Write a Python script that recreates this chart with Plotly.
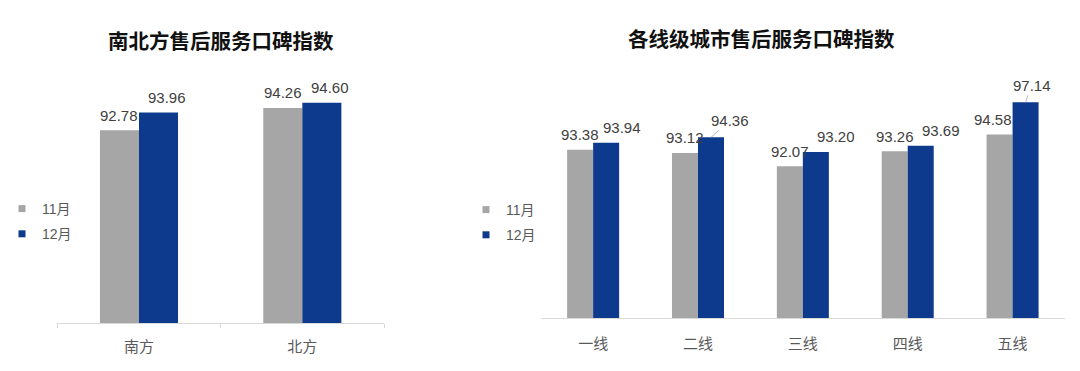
import plotly.graph_objects as go

# ---------------- data ----------------
series_names = ["11月", "12月"]

regions = ["南方", "北方"]
region_nov = [92.78, 94.26]
region_dec = [93.96, 94.60]

tiers = ["一线", "二线", "三线", "四线", "五线"]
tier_nov = [93.38, 93.12, 92.07, 93.26, 94.58]
tier_dec = [93.94, 94.36, 93.20, 93.69, 97.14]

title_left = "南北方售后服务口碑指数"
title_right = "各线级城市售后服务口碑指数"

# ---------------- style ----------------
W, H = 1080, 371
GRAY = "#a6a6a6"
BLUE = "#0d3a8c"
LABEL_C = "#404040"
TICK_C = "#595959"
AXIS_C = "#d9d9d9"
NUM_FONT = "Liberation Sans, Arial, Noto Sans CJK SC, sans-serif"
CJK_FONT = "Noto Sans CJK SC, Liberation Sans, sans-serif"

WL = 0.239   # bar width (category units), left chart
WR = 0.248   # bar width, right chart

# label pixel nudges (style only)
left_nov_dx = [0, 0]
left_dec_dx = [8, 8]
right_nov_dx = [0, 0, 0, 0, -7]
right_dec_dx = [16, 19, 20, 20, 6]
right_dec_leader = [False, True, False, False, True]
LABEL_DY = 15

fig = go.Figure()

# left chart bars
fig.add_trace(go.Bar(x=regions, y=region_nov, width=WL, offset=-WL, marker_color=GRAY,
                     marker_line_width=0, showlegend=False, xaxis="x", yaxis="y",
                     name=series_names[0]))
fig.add_trace(go.Bar(x=regions, y=region_dec, width=WL, offset=0, marker_color=BLUE,
                     marker_line_width=0, showlegend=False, xaxis="x", yaxis="y",
                     name=series_names[1]))
# right chart bars
fig.add_trace(go.Bar(x=tiers, y=tier_nov, width=WR, offset=-WR, marker_color=GRAY,
                     marker_line_width=0, showlegend=False, xaxis="x2", yaxis="y2",
                     name=series_names[0]))
fig.add_trace(go.Bar(x=tiers, y=tier_dec, width=WR, offset=0, marker_color=BLUE,
                     marker_line_width=0, showlegend=False, xaxis="x2", yaxis="y2",
                     name=series_names[1]))

# legend entries (small squares)
for lg, xa, ya in [("legend", "x", "y"), ("legend2", "x2", "y2")]:
    for name, col in zip(series_names, [GRAY, BLUE]):
        fig.add_trace(go.Scatter(x=[None], y=[None], mode="markers", name=name,
                                 marker=dict(symbol="square", size=7, color=col),
                                 legend=lg, legendgroup=lg + name,
                                 xaxis=xa, yaxis=ya, hoverinfo="skip"))

annotations = []


def add_labels(vals, xref, yref, center, dxs, leaders=None):
    for i, v in enumerate(vals):
        lead = leaders[i] if leaders else False
        base = dict(x=i + center, y=v, xref=xref, yref=yref, text=f"{v:.2f}",
                    font=dict(family=NUM_FONT, size=15, color=LABEL_C))
        if lead:
            base.update(showarrow=True, arrowhead=0, arrowwidth=0.8, arrowcolor="#a6a6a6",
                        ax=dxs[i], ay=-(LABEL_DY + 2), standoff=0)
        else:
            base.update(showarrow=False, xshift=dxs[i], yshift=LABEL_DY, yanchor="middle")
        annotations.append(base)


add_labels(region_nov, "x", "y", -WL / 2, left_nov_dx)
add_labels(region_dec, "x", "y", WL / 2, left_dec_dx)
add_labels(tier_nov, "x2", "y2", -WR / 2, right_nov_dx)
add_labels(tier_dec, "x2", "y2", WR / 2, right_dec_dx, right_dec_leader)

annotations.append(dict(text=f"<b>{title_left}</b>", x=220.8 / W, y=1 - 40 / H, xref="paper",
                        yref="paper", showarrow=False, xanchor="center", yanchor="middle",
                        font=dict(family=CJK_FONT, size=20.5, color="#111111")))
annotations.append(dict(text=f"<b>{title_right}</b>", x=761.5 / W, y=1 - 38.3 / H, xref="paper",
                        yref="paper", showarrow=False, xanchor="center", yanchor="middle",
                        font=dict(family=CJK_FONT, size=20.5, color="#111111")))

legend_common = dict(xanchor="left", yanchor="top", bgcolor="rgba(0,0,0,0)",
                     font=dict(family=NUM_FONT, size=14, color=TICK_C),
                     tracegroupgap=4, traceorder="grouped", itemclick=False,
                     itemdoubleclick=False)

fig.update_layout(
    width=W, height=H, autosize=False,
    margin=dict(l=0, r=0, t=0, b=0),
    paper_bgcolor="white", plot_bgcolor="white",
    barmode="overlay",
    annotations=annotations,
    legend=dict(x=2 / W, y=1 - 193 / H, **legend_common),
    legend2=dict(x=466 / W, y=1 - 194 / H, **legend_common),
    xaxis=dict(domain=[57.3 / W, 384 / W], anchor="y", type="category",
               range=[-0.5, len(regions) - 0.5], showline=True, linecolor=AXIS_C,
               linewidth=1, ticks="outside", tickson="boundaries", ticklen=4,
               tickcolor=AXIS_C, showgrid=False, zeroline=False,
               tickfont=dict(family=CJK_FONT, size=15, color=TICK_C),
               ticklabelstandoff=10, fixedrange=True),
    yaxis=dict(domain=[(H - 323.3) / H, (H - 21.3) / H], anchor="x", range=[80, 100],
               visible=False, fixedrange=True),
    xaxis2=dict(domain=[540.7 / W, 1065 / W], anchor="y2", type="category",
                range=[-0.5, len(tiers) - 0.5], showline=True, linecolor=AXIS_C,
                linewidth=1, ticks="", showgrid=False, zeroline=False,
                tickfont=dict(family=CJK_FONT, size=15, color=TICK_C),
                ticklabelstandoff=12, fixedrange=True),
    yaxis2=dict(domain=[(H - 318.3) / H, (H - 66.3) / H], anchor="x2", range=[80, 100],
                visible=False, fixedrange=True),
    hovermode=False,
)

fig.write_html("out.html", config={"displayModeBar": False},
               post_script="document.body.style.margin='0px';document.body.style.overflow='hidden';")
